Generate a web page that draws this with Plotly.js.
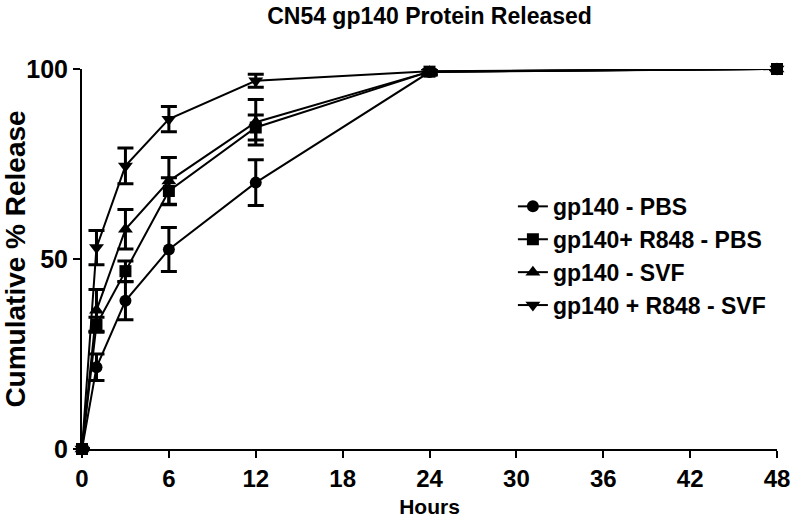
<!DOCTYPE html>
<html>
<head>
<meta charset="utf-8">
<script src="https://cdn.plot.ly/plotly-3.0.1.min.js"></script>
<style>html,body{margin:0;padding:0;background:#fff;}#chart{width:794px;height:522px;}</style>
</head>
<body>
<div id="chart"></div>
<script>
const hours = [0, 1, 3, 6, 12, 24, 48];
const names = ["gp140 - PBS", "gp140+ R848 - PBS", "gp140 - SVF", "gp140 + R848 - SVF"];
const symbols = ["circle", "square", "triangle-up", "triangle-down"];
const pbs = [0, 21.5, 39, 52.5, 70.1, 99.2, 100];
const pbsErr = [0, 3.5, 5, 5.8, 6, 0.8, 0];
const r848Pbs = [0, 32.7, 46.8, 67.9, 84.6, 99.3, 100];
const r848PbsErr = [0, 2, 2.7, 3.5, 3.3, 0.8, 0];
const svf = [0, 36.5, 57.8, 70.5, 86, 99.3, 100];
const svfErr = [0, 5.5, 5.2, 6.2, 6, 0.8, 0];
const r848Svf = [0, 53, 74.5, 86.8, 96.9, 99.4, 100];
const r848SvfErr = [0, 4.5, 4.7, 3.3, 1.7, 0.6, 0];

const ys = [pbs, r848Pbs, svf, r848Svf];
const errs = [pbsErr, r848PbsErr, svfErr, r848SvfErr];

const traces = ys.map((y, i) => ({
  x: hours, y: y, name: names[i], type: "scatter", mode: "lines+markers",
  line: {color: "#000", width: 2},
  marker: {symbol: symbols[i], size: i >= 2 ? 13 : 12, color: "#000"},
  error_y: {type: "data", array: errs[i], visible: true, color: "#000", thickness: 3, width: 8},
  cliponaxis: false
}));

const font = "'Liberation Sans', Arial, sans-serif";

const layout = {
  width: 794, height: 522,
  margin: {l: 82, r: 17, t: 69, b: 73},
  paper_bgcolor: "#fff", plot_bgcolor: "#fff",
  title: {text: "<b>CN54 gp140 Protein Released</b>", font: {family: font, size: 23, color: "#000"}, x: 0.5, xref: "paper", y: 0.97, yanchor: "middle"},
  xaxis: {
    range: [0, 48], tickvals: [0, 6, 12, 18, 24, 30, 36, 42, 48],
    ticks: "outside", ticklen: 7, tickwidth: 2, tickcolor: "#000",
    showline: true, linecolor: "#000", linewidth: 2, showgrid: false, zeroline: false,
    tickfont: {family: font, size: 24, color: "#000", weight: "bold"},
    title: {text: "<b>Hours</b>", font: {family: font, size: 21, color: "#000"}, standoff: 9}
  },
  yaxis: {
    range: [0, 100], tickvals: [0, 50, 100],
    ticks: "outside", ticklen: 7, tickwidth: 2, tickcolor: "#000",
    showline: true, linecolor: "#000", linewidth: 2, showgrid: false, zeroline: false,
    tickfont: {family: font, size: 25, color: "#000", weight: "bold"},
    title: {text: "<b>Cumulative % Release</b>", font: {family: font, size: 28, color: "#000"}, standoff: 4}
  },
  showlegend: true,
  legend: {
    x: 0.62, y: 0.695, xanchor: "left", yanchor: "top",
    font: {family: font, size: 23, color: "#000", weight: "bold"},
    itemwidth: 30, bgcolor: "rgba(0,0,0,0)", tracegroupgap: 0
  }
};

Plotly.newPlot("chart", traces, layout, {displayModeBar: false, staticPlot: true});
</script>
</body>
</html>
